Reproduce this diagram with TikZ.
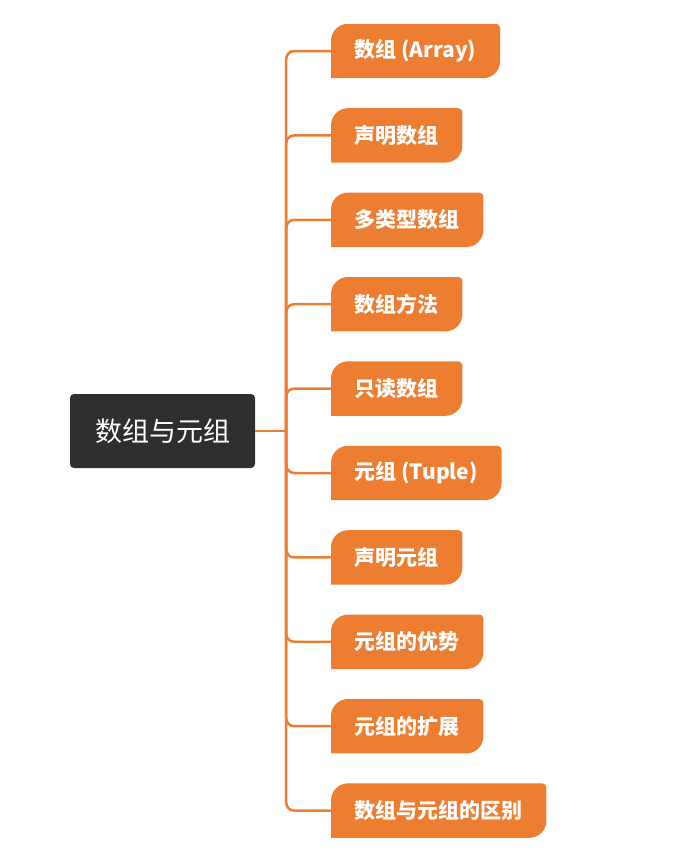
\documentclass[tikz,border=0pt]{standalone}
\usepackage{fontspec}
\newfontfamily\cjk{Noto Sans CJK SC}
\usetikzlibrary{positioning, backgrounds}
\definecolor{mmorange}{HTML}{ED7D31}
\definecolor{mmdark}{HTML}{2F2F2F}
\tikzset{
  root/.style={rectangle,fill=mmdark,rounded corners=4pt,text=white,font=\cjk\fontsize{27pt}{30pt}\selectfont,minimum width=185pt,minimum height=74pt},
  topic/.style={rectangle,text=white,font=\cjk\bfseries\fontsize{21pt}{24pt}\selectfont,minimum height=54pt,inner xsep=23.5pt,inner ysep=0pt},
  link/.style={draw=mmorange,line width=2.5pt,rounded corners=8pt}
}

\begin{document}
\begin{tikzpicture}[x=1pt,y=1pt,node distance=84.4pt]
\useasboundingbox (0,0) rectangle (677,-852);
\node[root] (root) at (162.5,-431) {数组与元组};
\node[topic, anchor=west] (t1) at (331,-51) {数组 (Array)};
\node[topic, below=of t1.west, anchor=west] (t2) {声明数组};
\node[topic, below=of t2.west, anchor=west] (t3) {多类型数组};
\node[topic, below=of t3.west, anchor=west] (t4) {数组方法};
\node[topic, below=of t4.west, anchor=west] (t5) {只读数组};
\node[topic, below=of t5.west, anchor=west] (t6) {元组 (Tuple)};
\node[topic, below=of t6.west, anchor=west] (t7) {声明元组};
\node[topic, below=of t7.west, anchor=west] (t8) {元组的优势};
\node[topic, below=of t8.west, anchor=west] (t9) {元组的扩展};
\node[topic, below=of t9.west, anchor=west] (t10) {数组与元组的区别};
% leaf shapes behind the texts
\begin{scope}[on background layer]
\foreach \i in {1,...,10}
  \fill[mmorange] (t\i.south west) -- ([yshift=-17pt]t\i.north west)
    arc[start angle=180,end angle=90,radius=17pt] -- ([xshift=-4pt]t\i.north east)
    arc[start angle=90,end angle=0,radius=4pt] -- ([yshift=17pt]t\i.south east)
    arc[start angle=0,end angle=-90,radius=17pt] -- cycle;
\end{scope}
% connectors
\coordinate[right=31pt of root.east] (hub);
\draw[link] (root.east) -- (hub);
\foreach \i in {1,...,10}
  \draw[link] (hub) |- (t\i.west);
\end{tikzpicture}
\end{document}
